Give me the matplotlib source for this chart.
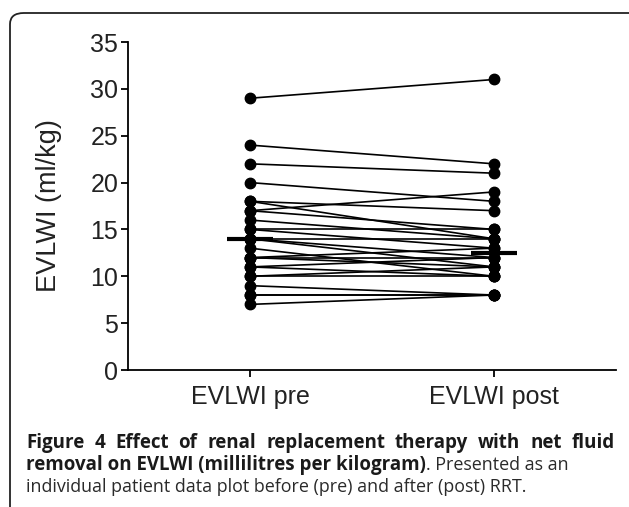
import matplotlib
matplotlib.use("Agg")
from matplotlib import pyplot as plt
from matplotlib.patches import FancyBboxPatch
import numpy as np

# EVLWI (ml/kg) for each patient, before and after RRT
groups = ["EVLWI pre", "EVLWI post"]
pre = [29, 24, 22, 20, 18, 18, 17, 17, 16, 15, 15, 14, 14, 14, 13,
       12, 12, 12, 11, 11, 10, 10, 9, 8, 8, 7]
post = [31, 22, 21, 18, 14, 17, 19, 15, 14, 15, 13, 12, 11, 14, 10,
        13, 11, 12, 10, 12, 11, 10, 8, 8, 8, 8]
yticks = [0, 5, 10, 15, 20, 25, 30, 35]

W, H = 629, 507
fig = plt.figure(figsize=(W / 100, H / 100), dpi=100)

# rounded frame round the figure (runs off the right and bottom edges)
frame = FancyBboxPatch((10 / W, -20 / H), 640 / W, (H - 13 + 20) / H,
                       boxstyle="round,pad=0,rounding_size=0.022",
                       transform=fig.transFigure, fill=False,
                       edgecolor="#222222", linewidth=1.3)
fig.patches.append(frame)

ax = fig.add_axes([128 / W, 1 - 370 / H, (616 - 128) / W, (370 - 42) / H])

for a, b in zip(pre, post):
    ax.plot([0, 1], [a, b], "o-", color="black", markersize=7.5,
            linewidth=1.2, clip_on=False, zorder=3)

# median bars
for i, vals in enumerate([pre, post]):
    m = np.median(vals)
    ax.plot([i - 0.095, i + 0.095], [m, m], color="black",
            linewidth=3, solid_capstyle="butt", zorder=4)

ax.set_xlim(-0.5, 1.5)
ax.set_ylim(0, 35)
ax.set_yticks(yticks)
ax.set_xticks([0, 1])
ax.set_xticklabels(groups)
for s in ["top", "right"]:
    ax.spines[s].set_visible(False)
for s in ["left", "bottom"]:
    ax.spines[s].set_linewidth(1.3)
ax.tick_params(direction="out", length=5, width=1.3, labelsize=18,
               labelcolor="#222222", pad=2)
ax.tick_params(axis="x", pad=6)
for lab in ax.get_xticklabels() + ax.get_yticklabels():
    lab.set_family("Liberation Sans")
ax.set_ylabel("EVLWI (ml/kg)", fontsize=19.5, family="Liberation Sans",
              color="#222222", labelpad=20)

# caption
cap = dict(family="Open Sans", fontsize=13.5, color="#1a1a1a",
           va="baseline", transform=fig.transFigure)
reg = dict(cap, fontsize=12.9, color="#2a2a2a")
fig.canvas.draw()
rend = fig.canvas.get_renderer()

# first line is justified between x=26 and x=615
words = "Figure 4 Effect of renal replacement therapy with net fluid".split()
items = [fig.text(0, 1 - 448 / H, w, weight="bold", **cap) for w in words]
widths = [it.get_window_extent(rend).width for it in items]
gap = (615 - 26 - sum(widths)) / (len(words) - 1)
x = 26
for it, w in zip(items, widths):
    it.set_x(x / W)
    x += w + gap

t = fig.text(26 / W, 1 - 470 / H,
             "removal on EVLWI (millilitres per kilogram)", weight="bold", **cap)
bb = t.get_window_extent(rend)
fig.text(bb.x1 / W, 1 - 470 / H, ". Presented as an", **reg)
fig.text(26 / W, 1 - 492 / H,
         "individual patient data plot before (pre) and after (post) RRT.", **reg)

fig.savefig("out.png", dpi=100)
